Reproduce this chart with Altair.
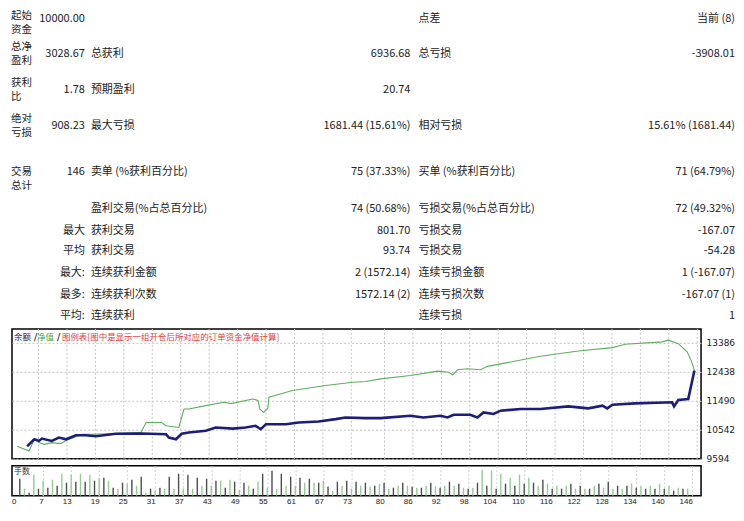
import altair as alt
import pandas as pd

# ---------------- report table texts ----------------
col_a_labels = ["起始\n资金", "总净\n盈利", "获利\n比", "绝对\n亏损", "交易\n总计"]
col_b_values = ["10000.00", "3028.67", "1.78", "908.23", "146", "", "最大", "平均", "最大:", "最多:", "平均:"]
col_c_labels = ["", "总获利", "预期盈利", "最大亏损", "卖单 (%获利百分比)", "盈利交易(%占总百分比)",
                "获利交易", "获利交易", "连续获利金额", "连续获利次数", "连续获利"]
col_d_values = ["", "6936.68", "20.74", "1681.44 (15.61%)", "75 (37.33%)", "74 (50.68%)",
                "801.70", "93.74", "2 (1572.14)", "1572.14 (2)", ""]
col_e_labels = ["点差", "总亏损", "", "相对亏损", "买单 (%获利百分比)", "亏损交易(%占总百分比)",
                "亏损交易", "亏损交易", "连续亏损金额", "连续亏损次数", "连续亏损"]
col_f_values = ["当前 (8)", "-3908.01", "", "15.61% (1681.44)", "71 (64.79%)", "72 (49.32%)",
                "-167.07", "-54.28", "1 (-167.07)", "-167.07 (1)", "1"]

# ---------------- equity / balance curves (trade no., account value) ----------------
equity_trade = [2.5, 5.0, 6.1, 7.1, 8.2, 9.8, 11.7, 12.8, 16.2, 18.3,
                23.5, 28.6, 29.7, 33.0, 33.9, 36.6, 37.7, 38.7, 42.3, 46.1,
                47.6, 52.2, 53.3, 53.7, 54.5, 55.4, 55.6, 60.6, 67.6, 73.3,
                76.0, 79.2, 85.5, 91.2, 93.5, 94.4, 95.4, 97.5, 100.3, 101.7,
                106.6, 112.9, 120.9, 128.1, 130.8, 138.6, 139.9, 142.0, 143.9, 144.7,
                145.4]
equity_value = [10000, 9848, 10231, 10122, 10066, 10122, 10089, 10188, 10396, 10396,
                10420, 10452, 10782, 10782, 10673, 10617, 11221, 11221, 11333, 11442,
                11400, 11551, 11500, 11221, 11112, 11250, 11607, 11828, 11993, 12102,
                12125, 12211, 12323, 12465, 12430, 12343, 12508, 12540, 12508, 12620,
                12762, 12950, 13125, 13234, 13346, 13422, 13478, 13366, 13092, 12818,
                12488]
balance_trade = [4.6, 5.0, 6.1, 7.1, 7.7, 9.8, 11.3, 12.8, 14.9, 17.0,
                 19.1, 23.3, 28.8, 33.9, 34.5, 36.0, 37.2, 38.7, 42.3, 44.4,
                 48.0, 50.7, 52.8, 53.9, 55.0, 59.2, 61.9, 66.1, 69.7, 71.8,
                 76.0, 79.2, 85.5, 88.2, 91.8, 93.3, 94.6, 98.1, 99.6, 100.9,
                 103.0, 104.5, 108.7, 112.9, 118.8, 123.0, 126.0, 127.0, 128.1, 132.9,
                 140.7, 141.1, 142.0, 144.1, 145.4]
balance_value = [10000, 10066, 10231, 10178, 10254, 10178, 10287, 10231, 10363, 10363,
                 10330, 10413, 10419, 10396, 10287, 10231, 10413, 10452, 10508, 10617,
                 10580, 10617, 10673, 10561, 10726, 10726, 10782, 10815, 10891, 10947,
                 10924, 10924, 11003, 10947, 11003, 10947, 11036, 11036, 10947, 11112,
                 11060, 11168, 11221, 11221, 11310, 11244, 11333, 11244, 11363, 11409,
                 11442, 11310, 11518, 11551, 12488]

# ---------------- lot sizes per trade ----------------
lots = [0.17, 0.07, 0.03, 0.21, 0.07, 0.15, 0.08, 0.16, 0.10, 0.22,
        0.13, 0.21, 0.14, 0.22, 0.14, 0.21, 0.15, 0.18, 0.18, 0.15,
        0.08, 0.07, 0.13, 0.12, 0.16, 0.10, 0.19, 0.03, 0.07, 0.05,
        0.08, 0.07, 0.19, 0.07, 0.22, 0.07, 0.21, 0.07, 0.18, 0.10,
        0.17, 0.10, 0.15, 0.15, 0.08, 0.16, 0.14, 0.06, 0.13, 0.10,
        0.07, 0.14, 0.22, 0.08, 0.25, 0.07, 0.22, 0.10, 0.19, 0.10,
        0.18, 0.13, 0.17, 0.13, 0.13, 0.15, 0.09, 0.05, 0.14, 0.10,
        0.15, 0.07, 0.14, 0.10, 0.13, 0.09,
        0.10, 0.12, 0.13, 0.07, 0.08, 0.10, 0.13, 0.10, 0.09,
        0.08, 0.08, 0.10, 0.13, 0.09, 0.08, 0.10, 0.14,
        0.10, 0.12, 0.08, 0.07, 0.08, 0.13, 0.26, 0.10, 0.25, 0.07,
        0.22, 0.12, 0.18, 0.10, 0.21, 0.12, 0.18, 0.13, 0.10, 0.16,
        0.12, 0.07, 0.10, 0.07, 0.10, 0.12, 0.07, 0.10, 0.07, 0.07,
        0.10, 0.12, 0.08, 0.14, 0.07, 0.10, 0.07, 0.10, 0.12, 0.08,
        0.10, 0.07, 0.10, 0.07, 0.12, 0.07, 0.10, 0.05, 0.08, 0.07,
        0.07]

x_tick_labels = [0, 7, 13, 19, 25, 31, 37, 43, 49, 55, 61, 67, 73, 80, 86, 92, 98,
                 104, 110, 116, 122, 128, 134, 140, 146]
y_tick_labels = [9594, 10542, 11490, 12438, 13386]

legend_parts = ["余额", "/", "净值", "/", "图例表[图中是显示一组开仓后所对应的订单资金净值计算]"]

# ---------------- layout constants ----------------
FONT = "Noto Sans CJK SC"
TABLE_W, TABLE_H = 725, 319
row_py = [11, 46, 82, 118, 164, 201, 223, 243, 265, 287, 308]
a_py = [15, 46, 82, 118, 171]
col_px = {"A": -1, "B": 73, "C": 79, "D": 399, "E": 407, "F": 724}

a_rows = []
for t, py in zip(col_a_labels, a_py):
    parts = t.split("\n")
    for j, part in enumerate(parts):
        a_rows.append({"t": part, "px": col_px["A"], "py": py + (j - (len(parts) - 1) / 2) * 14})
left_rows = []
for col, texts in (("C", col_c_labels), ("E", col_e_labels)):
    for t, py in zip(texts, row_py):
        if t:
            left_rows.append({"t": t, "px": col_px[col], "py": py})
right_rows = []
for col, texts in (("B", col_b_values), ("D", col_d_values), ("F", col_f_values)):
    for t, py in zip(texts, row_py):
        if t:
            right_rows.append({"t": t, "px": col_px[col], "py": py})

tx = alt.X("px:Q", scale=alt.Scale(domain=[0, TABLE_W], nice=False, zero=False), axis=None)
ty = alt.Y("py:Q", scale=alt.Scale(domain=[0, TABLE_H], range=[0, TABLE_H], nice=False, zero=False), axis=None)

table_a = alt.Chart(pd.DataFrame(a_rows)).mark_text(
    align="left", baseline="middle", font=FONT, fontSize=10.5, color="#222"
).encode(x=tx, y=ty, text="t:N")
table_left = alt.Chart(pd.DataFrame(left_rows)).mark_text(
    align="left", baseline="middle", font=FONT, fontSize=11, color="#222"
).encode(x=tx, y=ty, text="t:N")
table_right = alt.Chart(pd.DataFrame(right_rows)).mark_text(
    align="right", baseline="middle", font=FONT, fontSize=11, color="#222"
).encode(x=tx, y=ty, text="t:N")
table = alt.layer(table_a, table_left, table_right).properties(
    width=TABLE_W, height=TABLE_H, view=alt.ViewBackground(stroke=None))

# ---------------- equity chart ----------------
W, H, VH = 690, 130, 30
x_scale = alt.Scale(domain=[1.4, 146.8], nice=False, zero=False)
y_scale = alt.Scale(domain=[9594, 13848], nice=False, zero=False)

eq_df = pd.concat([
    pd.DataFrame({"trade": equity_trade, "value": equity_value, "series": "净值"}),
    pd.DataFrame({"trade": balance_trade, "value": balance_value, "series": "余额"}),
])

grid_df = pd.DataFrame({"trade": x_tick_labels[1:]})
vgrid = alt.Chart(grid_df).mark_rule(color="#c4c4c4", strokeDash=[2, 2], strokeWidth=1).encode(
    x=alt.X("trade:Q", scale=x_scale, axis=None))

base = alt.Chart(eq_df).encode(
    x=alt.X("trade:Q", scale=x_scale, axis=None),
    y=alt.Y("value:Q", scale=y_scale,
            axis=alt.Axis(orient="right", values=y_tick_labels, format="d", grid=True,
                          gridDash=[2, 2], gridColor="#c4c4c4", ticks=False, tickSize=0, domain=False,
                          labelFont="DejaVu Sans", labelFontSize=9, labelColor="#222",
                          labelPadding=5, title=None)),
)
green = base.transform_filter(alt.datum.series == "净值").mark_line(color="#5fae5f", strokeWidth=1.1)
blue = base.transform_filter(alt.datum.series == "余额").mark_line(color="#1d1d7c", strokeWidth=2.6)

leg_df = pd.DataFrame({"t": legend_parts})
legend_colors = ["#1d1d5c", "#333333", "#3fa33f", "#333333", "#e0403a"]
legend_x = [2, 22, 25, 45, 50]
legend_layers = []
for t, c, lx in zip(legend_parts, legend_colors, legend_x):
    legend_layers.append(
        alt.Chart(leg_df).transform_filter(alt.datum.t == t).mark_text(
            align="left", baseline="middle", font=FONT, fontSize=8.5, color=c
        ).encode(x=alt.value(lx), y=alt.value(8), text="t:N")
    )

equity = alt.layer(vgrid, green, blue, *legend_layers).properties(
    width=W, height=H, view=alt.ViewBackground(stroke="#000", strokeWidth=1.5))

# ---------------- volume chart ----------------
vol_df = pd.DataFrame({
    "trade": list(range(2, 2 + len(lots))),
    "lots": lots,
    "kind": ["a" if i % 2 == 0 else "b" for i in range(len(lots))],
})
bars = alt.Chart(vol_df).mark_bar(size=1.4).encode(
    x=alt.X("trade:Q", scale=x_scale,
            axis=alt.Axis(values=x_tick_labels[1:], labelAlign="right", labelFont="Liberation Sans",
                          labelFontSize=8, labelColor="#222", labelPadding=2, ticks=False, tickSize=0,
                          domain=False, grid=True, gridDash=[2, 2], gridColor="#d0d0d0", title=None)),
    y=alt.Y("lots:Q", scale=alt.Scale(domain=[0, 0.30], nice=False), axis=None),
    color=alt.Color("kind:N", scale=alt.Scale(domain=["a", "b"], range=["#4d4d4d", "#94cc94"]), legend=None),
)
zero_df = pd.DataFrame({"t": [str(x_tick_labels[0])]})
zero_lbl = alt.Chart(zero_df).mark_text(
    align="left", baseline="top", font="Liberation Sans", fontSize=8, color="#222"
).encode(x=alt.value(0), y=alt.value(VH + 2), text="t:N")
lots_lbl = alt.Chart(pd.DataFrame({"t": ["手数"]})).mark_text(
    align="left", baseline="middle", font=FONT, fontSize=8, color="#333"
).encode(x=alt.value(2), y=alt.value(6), text="t:N")

volume = alt.layer(bars, zero_lbl, lots_lbl).properties(
    width=W, height=VH, view=alt.ViewBackground(stroke="#000", strokeWidth=1.5))

chart = alt.vconcat(table, equity, volume, spacing=0).properties(
    padding={"left": 3, "top": 0, "right": 0, "bottom": 0}, background="white")

chart.save("out.html", embed_options={"renderer": "svg", "actions": False})
